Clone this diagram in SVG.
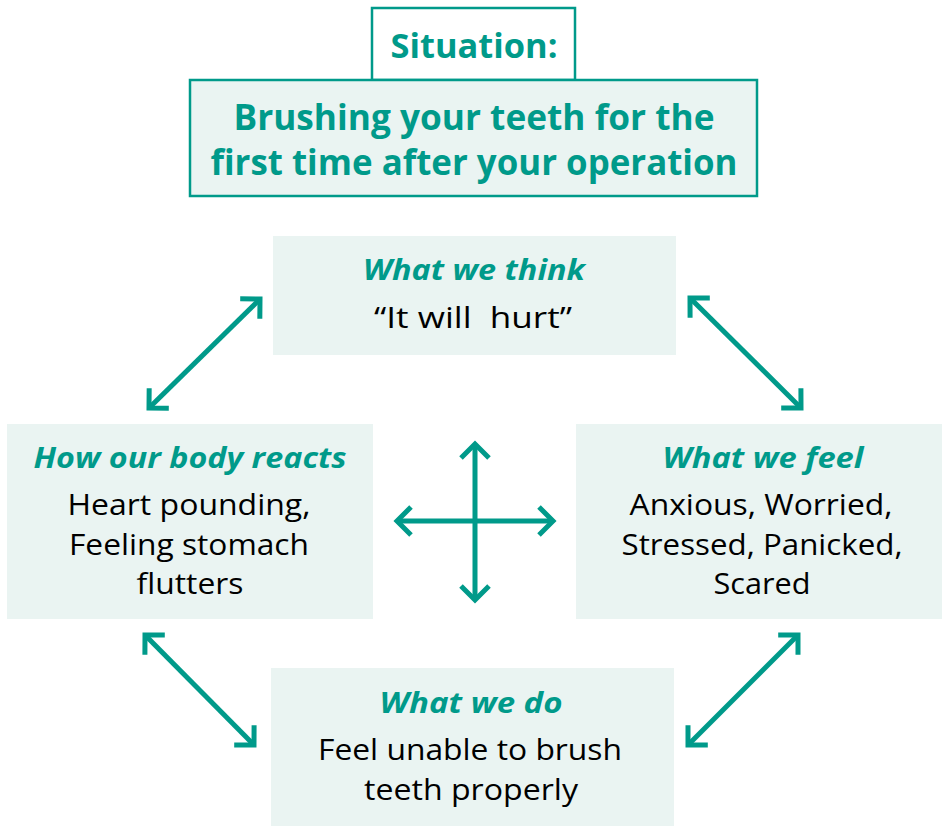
<svg xmlns="http://www.w3.org/2000/svg" width="944" height="827" viewBox="0 0 944 827">
<style>
.box{fill:#EAF4F2}
.frame{stroke:#009A8A;stroke-width:2.5}
.title{font-family:"Open Sans","Noto Sans",sans-serif;font-weight:bold;fill:#009A8A;text-anchor:middle}
.head{font-family:"Open Sans","Noto Sans",sans-serif;font-weight:bold;font-style:italic;font-size:29px;fill:#009A8A;text-anchor:middle}
.body{font-family:"Open Sans","Noto Sans",sans-serif;font-size:29px;fill:#000;text-anchor:middle}
.conn{stroke:#009A8A;stroke-width:5;fill:none}
</style>
<defs>
<marker id="ah" markerUnits="userSpaceOnUse" viewBox="-20 -20 26 40" markerWidth="26" markerHeight="40" refX="0" refY="0" orient="auto-start-reverse">
<path d="M-14,-14 L0,0 L-14,14" fill="none" stroke="#009A8A" stroke-width="5" stroke-linejoin="miter"/>
</marker>
</defs>
<rect width="944" height="827" fill="#fff"/>

<g id="situation">
<rect x="372" y="8" width="203" height="72" fill="#fff" class="frame"/>
<text class="title" x="474" y="58" font-size="34" textLength="167" lengthAdjust="spacingAndGlyphs">Situation:</text>
</g>

<g id="brushing">
<rect x="190" y="80" width="567" height="116" class="box frame"/>
<text class="title" x="474" y="130" font-size="35" textLength="481" lengthAdjust="spacingAndGlyphs">Brushing your teeth for the</text>
<text class="title" x="474" y="175" font-size="35" textLength="527" lengthAdjust="spacingAndGlyphs">first time after your operation</text>
</g>

<g id="think">
<rect x="273" y="236" width="403" height="119" class="box"/>
<text class="head" x="474" y="280" textLength="222" lengthAdjust="spacingAndGlyphs">What we think</text>
<text class="body" x="473" y="328" textLength="198" lengthAdjust="spacingAndGlyphs">“It will&#160; hurt”</text>
</g>

<g id="body-reacts">
<rect x="7" y="424" width="366" height="195" class="box"/>
<text class="head" x="190" y="468" textLength="313" lengthAdjust="spacingAndGlyphs">How our body reacts</text>
<text class="body" x="189" y="515" textLength="243" lengthAdjust="spacingAndGlyphs">Heart pounding,</text>
<text class="body" x="189" y="555" textLength="240" lengthAdjust="spacingAndGlyphs">Feeling stomach</text>
<text class="body" x="190" y="594" textLength="107" lengthAdjust="spacingAndGlyphs">flutters</text>
</g>

<g id="feel">
<rect x="576" y="424" width="366" height="195" class="box"/>
<text class="head" x="763" y="468" textLength="201" lengthAdjust="spacingAndGlyphs">What we feel</text>
<text class="body" x="761" y="515" textLength="263" lengthAdjust="spacingAndGlyphs">Anxious, Worried,</text>
<text class="body" x="762" y="555" textLength="281" lengthAdjust="spacingAndGlyphs">Stressed, Panicked,</text>
<text class="body" x="762" y="594" textLength="97" lengthAdjust="spacingAndGlyphs">Scared</text>
</g>

<g id="do">
<rect x="271" y="668" width="403" height="158" class="box"/>
<text class="head" x="471" y="713" textLength="183" lengthAdjust="spacingAndGlyphs">What we do</text>
<text class="body" x="470" y="760" textLength="304" lengthAdjust="spacingAndGlyphs">Feel unable to brush</text>
<text class="body" x="471" y="800" textLength="214" lengthAdjust="spacingAndGlyphs">teeth properly</text>
</g>

<g id="connectors">
<line class="conn" x1="149" y1="408" x2="260" y2="299" marker-start="url(#ah)" marker-end="url(#ah)"/>
<line class="conn" x1="690" y1="298" x2="801" y2="408" marker-start="url(#ah)" marker-end="url(#ah)"/>
<line class="conn" x1="145" y1="635" x2="254" y2="745" marker-start="url(#ah)" marker-end="url(#ah)"/>
<line class="conn" x1="688" y1="745" x2="798" y2="635" marker-start="url(#ah)" marker-end="url(#ah)"/>
<line class="conn" x1="475" y1="444" x2="475" y2="600" marker-start="url(#ah)" marker-end="url(#ah)"/>
<line class="conn" x1="397" y1="521" x2="553" y2="521" marker-start="url(#ah)" marker-end="url(#ah)"/>
</g>
</svg>
